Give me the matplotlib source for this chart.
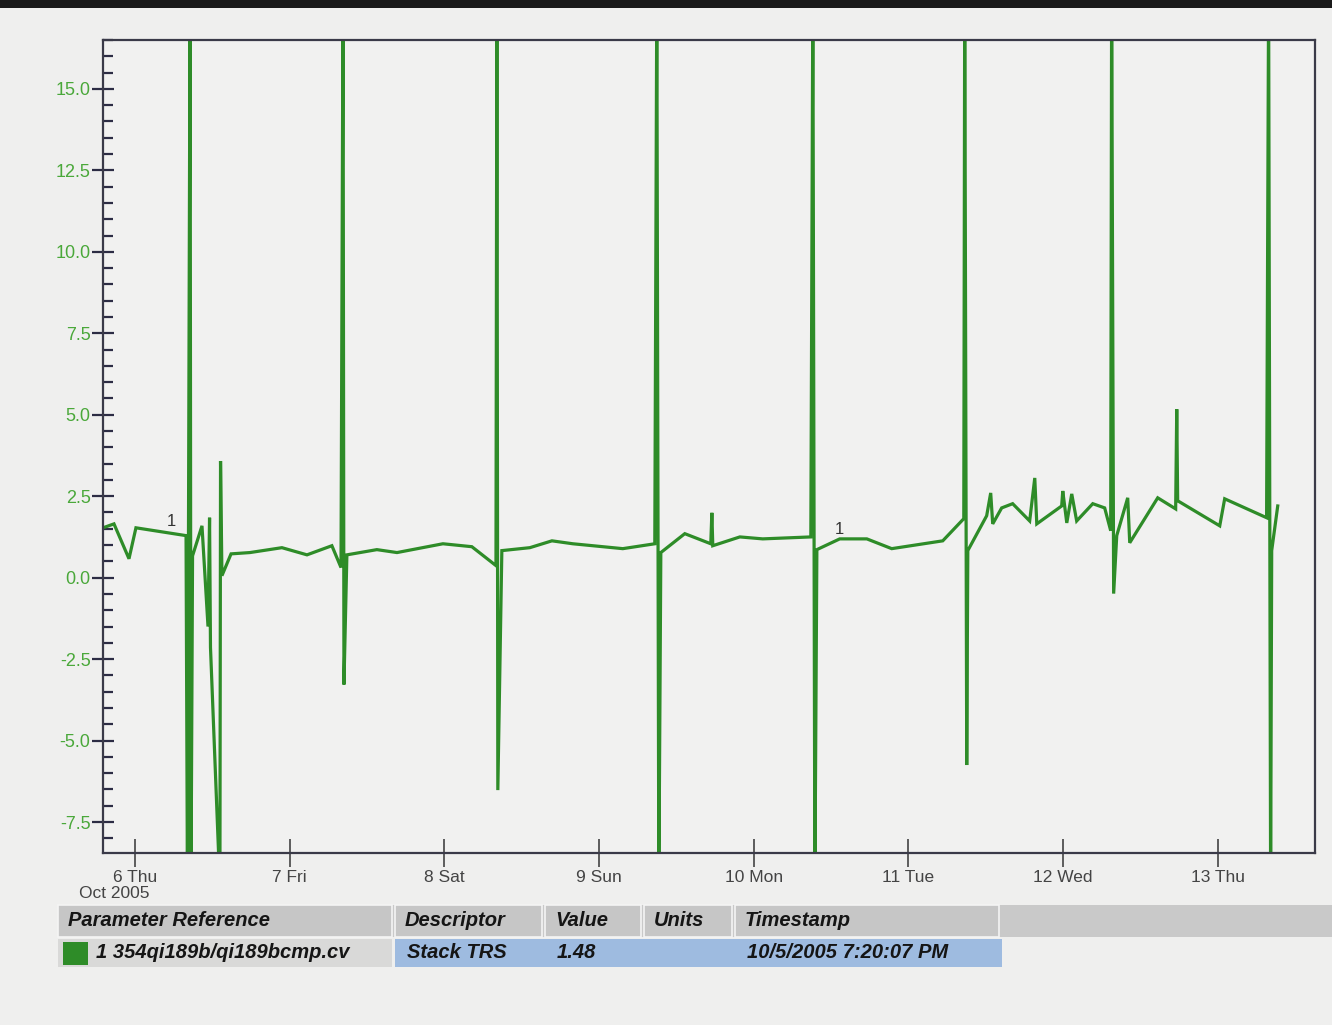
import matplotlib
matplotlib.use("Agg")
import matplotlib.pyplot as plt
from matplotlib.ticker import MultipleLocator, FixedLocator
from matplotlib.patches import Rectangle

# ---- data (day of Oct 2005, value) ----
days = [5.793, 5.864, 5.961, 6.006, 6.330, 6.339, 6.356, 6.362, 6.372, 6.433,
        6.472, 6.482, 6.488, 6.549, 6.553, 6.562, 6.621, 6.743, 6.950, 7.112,
        7.273, 7.332, 7.345, 7.351, 7.370, 7.564, 7.694, 7.991, 8.178, 8.334,
        8.340, 8.346, 8.372, 8.553, 8.696, 8.831, 9.154, 9.361, 9.374, 9.387,
        9.400, 9.555, 9.723, 9.730, 9.736, 9.911, 10.059, 10.370, 10.383, 10.396,
        10.409, 10.557, 10.732, 10.893, 11.223, 11.359, 11.365, 11.378, 11.385, 11.507,
        11.533, 11.546, 11.604, 11.675, 11.785, 11.818, 11.831, 11.992, 11.999, 12.025,
        12.057, 12.089, 12.193, 12.270, 12.309, 12.315, 12.328, 12.348, 12.419, 12.432,
        12.613, 12.729, 12.736, 12.742, 13.014, 13.046, 13.317, 13.330, 13.343, 13.350,
        13.389]
values = [1.53, 1.65, 0.58, 1.53, 1.29, -9.5, 18.0, -9.5, 0.67, 1.59,
          -1.5, 1.84, -2.14, -9.5, 3.58, 0.06, 0.73, 0.77, 0.92, 0.70,
          0.98, 0.31, 18.0, -3.28, 0.70, 0.86, 0.77, 1.04, 0.95, 0.37,
          18.0, -6.52, 0.83, 0.92, 1.13, 1.04, 0.89, 1.04, 18.0, -9.5,
          0.77, 1.35, 1.04, 1.99, 0.98, 1.25, 1.19, 1.25, 18.0, -9.5,
          0.86, 1.19, 1.19, 0.89, 1.13, 1.81, 18.0, -5.75, 0.83, 1.90,
          2.60, 1.65, 2.14, 2.27, 1.74, 3.06, 1.65, 2.20, 2.66, 1.68,
          2.57, 1.74, 2.27, 2.14, 1.44, 18.0, -0.49, 1.29, 2.45, 1.07,
          2.45, 2.11, 5.17, 2.36, 1.59, 2.42, 1.84, 18.0, -9.5, 0.83,
          2.20]

tick_days = [6, 7, 8, 9, 10, 11, 12, 13]
tick_labels = ["6 Thu", "7 Fri", "8 Sat", "9 Sun", "10 Mon", "11 Tue", "12 Wed", "13 Thu"]
y_ticks = [-7.5, -5.0, -2.5, 0.0, 2.5, 5.0, 7.5, 10.0, 12.5, 15.0]
marker_days = [6.233, 10.557]
marker_vals = [1.71, 1.47]

header_cols = ["Parameter Reference", "Descriptor", "Value", "Units", "Timestamp"]
row_vals = ["1 354qi189b/qi189bcmp.cv", "Stack TRS", "1.48", "", "10/5/2005 7:20:07 PM"]

# ---- figure ----
W, H = 1332, 1025
fig = plt.figure(figsize=(W / 100, H / 100), dpi=100)
fig.patch.set_facecolor("#efefee")


def fx(x):
    return x / W


def fy(y):
    return 1 - y / H


# dark scan border at top
fig.patches.append(Rectangle((0, fy(8)), 1, 8 / H, transform=fig.transFigure,
                             facecolor="#1a1a1a", edgecolor="none", zorder=0))

ax = fig.add_axes([fx(103), fy(853), fx(1315) - fx(103), fy(40) - fy(853)])
ax.set_facecolor("#f1f1f0")
green = "#2e8c28"
ax.plot(days, values, color=green, lw=2.3, solid_joinstyle="miter")
ax.set_xlim(5.793, 13.63)
ax.set_ylim(-8.45, 16.5)

for sp in ax.spines.values():
    sp.set_color("#3a3a48")
    sp.set_linewidth(1.6)

ax.yaxis.set_major_locator(FixedLocator(y_ticks))
ax.set_yticklabels([f"{v:.1f}" for v in y_ticks])
ax.yaxis.set_minor_locator(MultipleLocator(0.5))
ax.tick_params(axis="y", which="major", direction="inout", length=16, width=1.6,
               color="#2c2c44", labelcolor="#4aa83a", labelsize=13, pad=1)
ax.tick_params(axis="y", which="minor", direction="in", length=7, width=1.6,
               color="#2c2c44")
ax.set_xticks(tick_days)
ax.set_xticklabels(tick_labels)
ax.tick_params(axis="x", which="major", direction="inout", length=20, width=1.2,
               color="#444444", labelcolor="#444444", labelsize=12.5, pad=2)
for lab in ax.get_xticklabels() + ax.get_yticklabels():
    lab.set_family("Liberation Sans")

for d, v in zip(marker_days, marker_vals):
    ax.text(d, v, "1", fontsize=12, color="#333333", ha="center", va="center",
            family="Liberation Sans")

fig.text(fx(114), fy(893), "Oct 2005", fontsize=12.5, color="#444444",
         ha="center", va="center", family="Liberation Sans")

# ---- table ----
hdr_top, hdr_bot = 905, 937
row_top, row_bot = 939, 967
col_x = [58, 395, 545, 644, 735, 1002]


def rect(x0, y0, x1, y1, fc, ec="none", lw=0):
    fig.patches.append(Rectangle((fx(x0), fy(y1)), fx(x1) - fx(x0), fy(y0) - fy(y1),
                                 transform=fig.transFigure, facecolor=fc,
                                 edgecolor=ec, linewidth=lw, zorder=1))


rect(col_x[0], hdr_top, W, hdr_bot, "#c9c9c9")
for i in range(len(header_cols)):
    rect(col_x[i], hdr_top, col_x[i + 1] - 3, hdr_bot, "#c6c6c6", ec="#f4f4f4", lw=1.2)
    fig.text(fx(col_x[i] + 10), fy((hdr_top + hdr_bot) / 2), header_cols[i],
             fontsize=14.5, fontweight="bold", fontstyle="italic", color="#151515",
             ha="left", va="center", family="Liberation Sans")

rect(col_x[0], row_top, col_x[1] - 3, row_bot, "#d9d9d8")
rect(col_x[1], row_top, col_x[5], row_bot, "#9ebbe0")
rect(63, row_top + 3, 88, row_bot - 2, green)
for i, txt in enumerate(row_vals):
    x0 = 96 if i == 0 else col_x[i] + 12
    if txt:
        fig.text(fx(x0), fy((row_top + row_bot) / 2), txt,
                 fontsize=14.5, fontweight="bold", fontstyle="italic", color="#151515",
                 ha="left", va="center", family="Liberation Sans")

fig.savefig("out.png", dpi=100, facecolor=fig.get_facecolor())
